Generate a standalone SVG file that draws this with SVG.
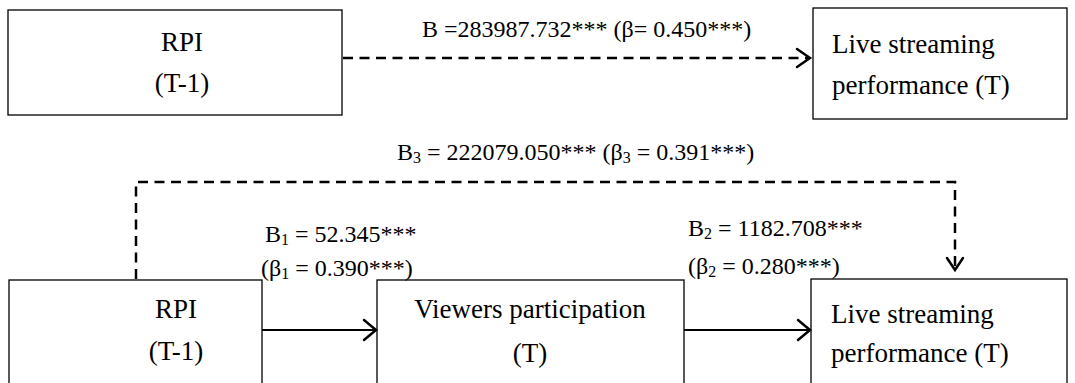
<svg xmlns="http://www.w3.org/2000/svg" width="1075" height="383" viewBox="0 0 1075 383">
<style>
  .box { fill: #fff; stroke: #000; stroke-width: 1.3; }
  .t { font-family: "Liberation Serif", "Times New Roman", serif; fill: #000; }
  .bt { font-size: 27px; }
  .lt { font-size: 24px; }
  .sub { font-size: 16px; }
  .solid { fill: none; stroke: #000; stroke-width: 2.2; }
  .dash { fill: none; stroke: #000; stroke-width: 2.5; stroke-dasharray: 10 6.5; }
  .head { fill: none; stroke: #000; stroke-width: 2.5; stroke-linecap: round; stroke-linejoin: miter; }
</style>
<rect width="1075" height="383" fill="#fff"/>
<g id="rpi-top">
  <rect class="box" x="8" y="10" width="334" height="105"/>
  <text class="t bt" x="182" y="51" text-anchor="middle">RPI</text>
  <text class="t bt" x="182" y="92" text-anchor="middle">(T-1)</text>
</g>
<g id="lsp-top">
  <rect class="box" x="813" y="8" width="254" height="111"/>
  <text class="t bt" x="832" y="53">Live streaming</text>
  <text class="t bt" x="832" y="94">performance (T)</text>
</g>
<g id="rpi-bottom">
  <rect class="box" x="9" y="280" width="253" height="130"/>
  <text class="t bt" x="176" y="318" text-anchor="middle">RPI</text>
  <text class="t bt" x="176" y="360" text-anchor="middle">(T-1)</text>
</g>
<g id="viewers">
  <rect class="box" x="377" y="280" width="307" height="130"/>
  <text class="t bt" x="530" y="318" text-anchor="middle">Viewers participation</text>
  <text class="t bt" x="530" y="362" text-anchor="middle">(T)</text>
</g>
<g id="lsp-bottom">
  <rect class="box" x="811" y="279" width="256" height="130"/>
  <text class="t bt" x="831" y="323">Live streaming</text>
  <text class="t bt" x="831" y="362">performance (T)</text>
</g>
<g id="connectors">
  <path class="dash" d="M343 58 H808"/>
  <path class="head" d="M797 49 L810 58 L797 67"/>
  <path class="dash" d="M136 279 V182 H955 V268"/>
  <path class="head" d="M947 258 L955 270 L963 258"/>
  <path class="solid" d="M262 330 H375"/>
  <path class="head" d="M364 320 L376 330 L364 340"/>
  <path class="solid" d="M684 330 H809"/>
  <path class="head" d="M798 320 L810 330 L798 340"/>
</g>
<g id="labels">
  <text class="t lt" x="422" y="37">B =283987.732*** (β= 0.450***)</text>
  <text class="t lt" x="397" y="160">B<tspan class="sub" dy="3">3</tspan><tspan dy="-3"> = 222079.050*** (β</tspan><tspan class="sub" dy="3">3</tspan><tspan dy="-3"> = 0.391***)</tspan></text>
  <text class="t lt" x="265" y="242">B<tspan class="sub" dy="3">1</tspan><tspan dy="-3"> = 52.345***</tspan></text>
  <text class="t lt" x="261" y="276">(β<tspan class="sub" dy="3">1</tspan><tspan dy="-3"> = 0.390***)</tspan></text>
  <text class="t lt" x="688" y="236">B<tspan class="sub" dy="3">2</tspan><tspan dy="-3"> = 1182.708***</tspan></text>
  <text class="t lt" x="688" y="274">(β<tspan class="sub" dy="3">2</tspan><tspan dy="-3"> = 0.280***)</tspan></text>
</g>
</svg>
